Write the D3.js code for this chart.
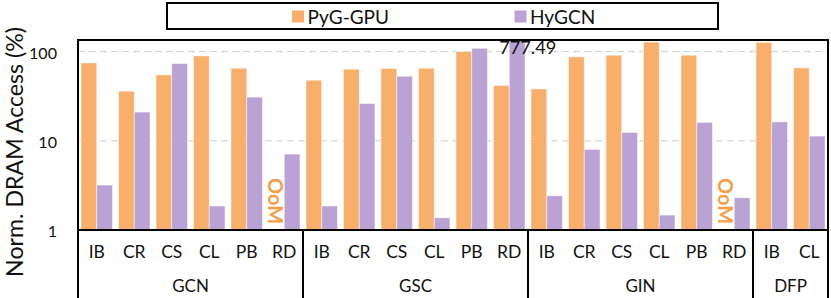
<!DOCTYPE html>
<html>
<head>
<meta charset="utf-8">
<script src="https://cdn.jsdelivr.net/npm/d3@7"></script>
<style>
  html, body { margin: 0; padding: 0; background: #fff; }
  svg { display: block; }
</style>
</head>
<body>
<svg id="chart" width="831" height="298"></svg>
<script>
// ---------------- data ----------------
const groups = ["GCN", "GSC", "GIN", "DFP"];
const datasets = [
  ["IB", "CR", "CS", "CL", "PB", "RD"],
  ["IB", "CR", "CS", "CL", "PB", "RD"],
  ["IB", "CR", "CS", "CL", "PB", "RD"],
  ["IB", "CL"]
];
const seriesNames = ["PyG-GPU", "HyGCN"];
// null = OoM (out of memory)
const pygGpu = [74.7, 36.0, 54.8, 89.5, 65.2, null,
                47.8, 63.5, 64.7, 65.2, 100, 41.7,
                38.2, 87.3, 91.2, 128, 91.2, null,
                127, 65.7];
const hygcn  = [3.19, 21.0, 73.6, 1.86, 30.9, 7.1,
                1.86, 26.2, 53.0, 1.37, 109, 777.49,
                2.42, 8.0, 12.4, 1.47, 16.1, 2.30,
                16.3, 11.3];
const yTicks = [1, 10, 100];
const yLabel = "Norm. DRAM Access (%)";
const annotated = { index: 11, text: "777.49" };

// ---------------- style ----------------
const FONT = "Lato, 'Open Sans', sans-serif";
const colors = ["#F8AF6B", "#BBA2D4"];
const oomColor = "#F59E46";

const svg = d3.select("#chart");
const W = 831, H = 298;
const m = { left: 78, right: 3, top: 40, bottom: 68 };
const x0 = m.left, x1 = W - m.right, yTop = m.top, yBot = H - m.bottom;

function fit(str, target, weight) {
  const t = svg.append("text").attr("font-family", FONT)
    .attr("font-size", 100).attr("font-weight", weight || "normal").text(str);
  const w = t.node().getComputedTextLength();
  t.remove();
  return 100 * target / w;
}
const fsTick = fit("100", 28);
const fsCat = fit("CR", 22.7);
const fsGroup = fit("GCN", 36.7);
const fsLegend = fit("PyG-GPU", 81.6);
const fsTitle = fit(yLabel, 250);
const fsAnn = fit(annotated.text, 57);
const fsOom = fit("OoM", 46, "bold");

// flatten categories
const cats = [];
const groupStarts = [];
datasets.forEach((ds, gi) => {
  groupStarts.push(cats.length);
  ds.forEach(d => cats.push({ name: d, group: groups[gi] }));
});
groupStarts.push(cats.length);

const x = d3.scaleBand().domain(d3.range(cats.length))
  .range([x0, x1]).paddingInner(0.16).paddingOuter(0.08);
const xs = d3.scaleBand().domain(d3.range(seriesNames.length))
  .range([0, x.bandwidth()]);
const y = d3.scaleLog().domain([1, 135]).range([yBot, yTop]);
const boundary = i => x0 + i * x.step();

// grid
svg.append("g").selectAll("line").data(yTicks.filter(t => t > 1)).join("line")
  .attr("x1", x0).attr("x2", x1)
  .attr("y1", d => y(d)).attr("y2", d => y(d))
  .attr("stroke", "#cfcfcf").attr("stroke-width", 1)
  .attr("stroke-dasharray", "7,4");

// bars
svg.append("clipPath").attr("id", "plotclip").append("rect")
  .attr("x", x0).attr("y", yTop).attr("width", x1 - x0).attr("height", yBot - yTop);
const barG = svg.append("g").attr("clip-path", "url(#plotclip)");
[pygGpu, hygcn].forEach((vals, si) => {
  barG.append("g").selectAll("rect")
    .data(vals.map((v, i) => ({ v, i })).filter(d => d.v != null))
    .join("rect")
    .attr("x", d => x(d.i) + xs(si))
    .attr("width", xs.bandwidth())
    .attr("y", d => y(Math.min(d.v, 1000)))
    .attr("height", d => yBot - y(Math.min(d.v, 1000)))
    .attr("fill", colors[si])
    .attr("stroke", "#ffffff").attr("stroke-opacity", 0.6).attr("stroke-width", 0.8);
});

// OoM labels
pygGpu.forEach((v, i) => {
  if (v != null) return;
  const cx = x(i) + xs(0) + xs.bandwidth() / 2;
  svg.append("text")
    .attr("transform", `translate(${cx},${yBot - 6}) rotate(90)`)
    .attr("text-anchor", "end").attr("dominant-baseline", "central")
    .attr("font-family", FONT).attr("font-weight", "bold")
    .attr("font-size", fsOom).attr("fill", oomColor).text("OoM");
});

// annotation
svg.append("text")
  .attr("x", x(annotated.index) + xs(1) - 10)
  .attr("y", y(100) + 2.5)
  .attr("font-family", FONT).attr("font-size", fsAnn).attr("fill", "#111")
  .text(annotated.text);

// frame
svg.append("rect").attr("x", x0).attr("y", yTop)
  .attr("width", x1 - x0).attr("height", yBot - yTop)
  .attr("fill", "none").attr("stroke", "#000").attr("stroke-width", 2);

// y tick labels
svg.append("g").selectAll("text").data(yTicks).join("text")
  .attr("x", 57).attr("y", d => y(d) + 0.5)
  .attr("text-anchor", "end").attr("dominant-baseline", "central")
  .attr("font-family", FONT).attr("font-size", fsTick).attr("fill", "#111")
  .text(d => d3.format("d")(d));

// y title
svg.append("text")
  .attr("transform", `translate(22.5,152) rotate(-90)`)
  .attr("text-anchor", "middle")
  .attr("font-family", FONT).attr("font-size", fsTitle).attr("fill", "#111")
  .text(yLabel);

// x category labels
svg.append("g").selectAll("text").data(cats).join("text")
  .attr("x", (d, i) => x(i) + x.bandwidth() / 2).attr("y", 251.5)
  .attr("text-anchor", "middle").attr("dominant-baseline", "central")
  .attr("font-family", FONT).attr("font-size", fsCat).attr("fill", "#111")
  .text(d => d.name);

// group labels
svg.append("g").selectAll("text").data(groups).join("text")
  .attr("x", (d, gi) => (boundary(groupStarts[gi]) + boundary(groupStarts[gi + 1])) / 2)
  .attr("y", 285)
  .attr("text-anchor", "middle").attr("dominant-baseline", "central")
  .attr("font-family", FONT).attr("font-size", fsGroup).attr("fill", "#111")
  .text(d => d);

// group separators
svg.append("g").selectAll("line").data(groupStarts).join("line")
  .attr("x1", d => boundary(d)).attr("x2", d => boundary(d))
  .attr("y1", yBot).attr("y2", H)
  .attr("stroke", "#000").attr("stroke-width", 2);

// legend
const lg = svg.append("g");
lg.append("rect").attr("x", 167).attr("y", 3).attr("width", 551).attr("height", 26)
  .attr("fill", "#fff").attr("stroke", "#000").attr("stroke-width", 2);
const legendX = [292, 514.5];
seriesNames.forEach((s, i) => {
  lg.append("rect").attr("x", legendX[i]).attr("y", 10.5).attr("width", 12).attr("height", 12)
    .attr("fill", colors[i]);
  lg.append("text").attr("x", legendX[i] + 15.5).attr("y", 16.5)
    .attr("dominant-baseline", "central")
    .attr("font-family", FONT).attr("font-size", fsLegend).attr("fill", "#111")
    .text(s);
});
</script>
</body>
</html>
